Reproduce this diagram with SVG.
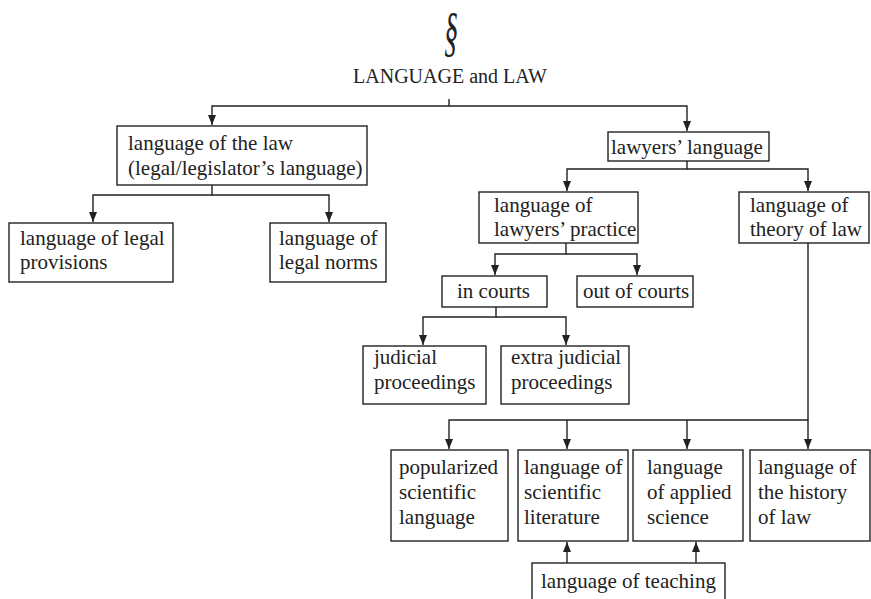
<svg xmlns="http://www.w3.org/2000/svg" width="871" height="599" viewBox="0 0 871 599">
<style>
  .box { fill: #ffffff; stroke: #222222; stroke-width: 1.4; }
  .t { font-family: "Liberation Serif", "Times New Roman", serif; font-size: 21px; fill: #222222; }
  .title { font-size: 20px; }
  .sec { font-size: 40px; font-style: italic; }
  .c { fill: none; stroke: #222222; stroke-width: 1.4; }
</style>
<defs>
  <marker id="arr" markerUnits="userSpaceOnUse" markerWidth="10" markerHeight="8" refX="10" refY="4" orient="auto">
    <path d="M0,0 L10,4 L0,8 z" fill="#222222"/>
  </marker>
</defs>
<rect width="871" height="599" fill="#ffffff"/>

<g id="title">
  <text class="t sec" x="0" y="0" text-anchor="middle" transform="translate(451,50) scale(0.7,1.35)">§</text>
  <text class="t title" x="450" y="83" text-anchor="middle">LANGUAGE and LAW</text>
</g>

<g id="connectors">
  <path class="c" d="M449,99 V106"/>
  <path class="c" d="M449,106 H212 V125" marker-end="url(#arr)"/>
  <path class="c" d="M449,106 H687 V131" marker-end="url(#arr)"/>
  <path class="c" d="M212,185 V195 H93 V222" marker-end="url(#arr)"/>
  <path class="c" d="M212,195 H329 V222" marker-end="url(#arr)"/>
  <path class="c" d="M687,161 V169 H567 V191" marker-end="url(#arr)"/>
  <path class="c" d="M687,169 H808 V191" marker-end="url(#arr)"/>
  <path class="c" d="M566,243 V254 H495 V275" marker-end="url(#arr)"/>
  <path class="c" d="M566,254 H637 V275" marker-end="url(#arr)"/>
  <path class="c" d="M496,307 V317 H423 V345" marker-end="url(#arr)"/>
  <path class="c" d="M496,317 H566 V345" marker-end="url(#arr)"/>
  <path class="c" d="M808,243 V420 H449 V449" marker-end="url(#arr)"/>
  <path class="c" d="M808,420 V449" marker-end="url(#arr)"/>
  <path class="c" d="M567,420 V449" marker-end="url(#arr)"/>
  <path class="c" d="M687,420 V449" marker-end="url(#arr)"/>
  <path class="c" d="M567,563 V542" marker-end="url(#arr)"/>
  <path class="c" d="M696,563 V542" marker-end="url(#arr)"/>
</g>

<g id="law">
  <rect class="box" x="117" y="126" width="250" height="59"/>
  <text class="t" x="128" y="150">language of the law</text>
  <text class="t" x="128" y="175">(legal/legislator’s language)</text>
</g>
<g id="provisions">
  <rect class="box" x="9" y="223" width="164" height="59"/>
  <text class="t" x="20" y="245">language of legal</text>
  <text class="t" x="20" y="269">provisions</text>
</g>
<g id="norms">
  <rect class="box" x="270" y="223" width="116" height="59"/>
  <text class="t" x="279" y="245">language of</text>
  <text class="t" x="279" y="269">legal norms</text>
</g>
<g id="lawyers">
  <rect class="box" x="608" y="132" width="161" height="29"/>
  <text class="t" x="611" y="154">lawyers’ language</text>
</g>
<g id="practice">
  <rect class="box" x="479" y="192" width="159" height="51"/>
  <text class="t" x="494" y="212">language of</text>
  <text class="t" x="494" y="236">lawyers’ practice</text>
</g>
<g id="theory">
  <rect class="box" x="739" y="192" width="130" height="51"/>
  <text class="t" x="750" y="212">language of</text>
  <text class="t" x="750" y="236">theory of law</text>
</g>
<g id="incourts">
  <rect class="box" x="442" y="276" width="105" height="31"/>
  <text class="t" x="457" y="298">in courts</text>
</g>
<g id="outcourts">
  <rect class="box" x="577" y="276" width="116" height="31"/>
  <text class="t" x="583" y="298">out of courts</text>
</g>
<g id="judicial">
  <rect class="box" x="363" y="346" width="123" height="58"/>
  <text class="t" x="374" y="364">judicial</text>
  <text class="t" x="374" y="389">proceedings</text>
</g>
<g id="extrajudicial">
  <rect class="box" x="501" y="346" width="128" height="58"/>
  <text class="t" x="511" y="364">extra judicial</text>
  <text class="t" x="511" y="389">proceedings</text>
</g>
<g id="popularized">
  <rect class="box" x="391" y="450" width="117" height="91"/>
  <text class="t" x="399" y="474">popularized</text>
  <text class="t" x="399" y="499">scientific</text>
  <text class="t" x="399" y="524">language</text>
</g>
<g id="literature">
  <rect class="box" x="518" y="450" width="110" height="91"/>
  <text class="t" x="524" y="474">language of</text>
  <text class="t" x="524" y="499">scientific</text>
  <text class="t" x="524" y="524">literature</text>
</g>
<g id="applied">
  <rect class="box" x="633" y="450" width="110" height="91"/>
  <text class="t" x="647" y="474">language</text>
  <text class="t" x="647" y="499">of applied</text>
  <text class="t" x="647" y="524">science</text>
</g>
<g id="history">
  <rect class="box" x="750" y="450" width="120" height="91"/>
  <text class="t" x="758" y="474">language of</text>
  <text class="t" x="758" y="499">the history</text>
  <text class="t" x="758" y="524">of law</text>
</g>
<g id="teaching">
  <rect class="box" x="532" y="563" width="193" height="45"/>
  <text class="t" x="541" y="588">language of teaching</text>
</g>
</svg>
